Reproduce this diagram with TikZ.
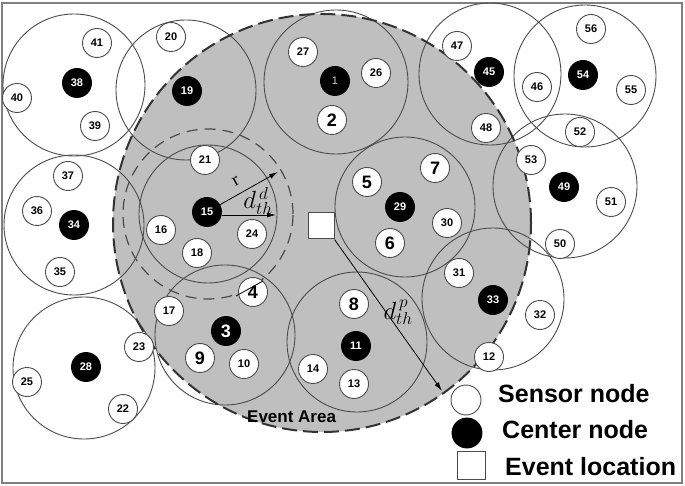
\documentclass[tikz,border=0pt]{standalone}
\usepackage{fontspec}
\setmainfont{Liberation Sans}
\newfontfamily\labelserif{Liberation Serif}
\usetikzlibrary{arrows.meta,positioning}
\definecolor{areagray}{RGB}{191,191,191}
\definecolor{ringgray}{RGB}{75,75,75}

\begin{document}
\begin{tikzpicture}[
    x=1pt, y=-1pt,
    sensor/.style={circle, draw=ringgray, fill=white, line width=0.9pt, minimum size=29pt, inner sep=0pt, font=\fontsize{11}{11}\selectfont\bfseries},
    bigsensor/.style={sensor, font=\fontsize{18}{18}\selectfont\bfseries},
    headnode/.style={sensor, draw=black, fill=black, text=white},
    bighead/.style={headnode, font=\fontsize{18}{18}\selectfont\bfseries},
    clusterring/.style={draw=ringgray, line width=0.9pt},
    evsquare/.style={rectangle, draw=ringgray, fill=white, line width=1pt, minimum size=26pt, inner sep=0pt},
    line/.style={-{Latex[length=9pt,width=5pt]}, line width=0.8pt},
    mathlabel/.style={font=\fontsize{23}{23}\selectfont, inner sep=0pt},
    legend/.style={font=\fontsize{25}{25}\selectfont\bfseries, inner sep=0pt, anchor=base west}
]
\useasboundingbox (0,0) rectangle (685,486);
\draw[gray, line width=1.5pt] (2,3) rectangle (682,483);

% event area
\fill[areagray] (322,223) circle[radius=209pt];

% cluster ranges
\draw[clusterring] (74,85) circle[radius=71pt];
\draw[clusterring] (186,90) circle[radius=70pt];
\draw[clusterring] (336,82) circle[radius=72pt];
\draw[clusterring] (490,74) circle[radius=71pt];
\draw[clusterring] (585,76) circle[radius=71pt];
\draw[clusterring] (74,225) circle[radius=70pt];
\draw[clusterring] (208,214) circle[radius=69pt];
\draw[clusterring] (405,207) circle[radius=70pt];
\draw[clusterring] (565,186) circle[radius=72pt];
\draw[clusterring] (225,335) circle[radius=70pt];
\draw[clusterring] (357,342) circle[radius=70pt];
\draw[clusterring] (493,299) circle[radius=71pt];
\draw[clusterring] (84,368) circle[radius=71pt];
\draw[ringgray, line width=1.2pt, dash pattern=on 11pt off 7pt] (208,214) circle[radius=85pt];
\draw[black!80, line width=2pt, dash pattern=on 15pt off 6pt] (322,223) circle[radius=209pt];

% center nodes
\node[headnode] (s38) at (77,83) {38};
\node[headnode] (s19) at (187,91) {19};
\node[headnode, font=\fontsize{11}{11}\selectfont, text=white!80!black] (s1) at (335,81) {1};
\node[headnode] (s45) at (489,72) {45};
\node[headnode] (s54) at (583,75) {54};
\node[headnode] (s34) at (74,225) {34};
\node[headnode] (s15) at (207,212) {15};
\node[headnode] (s29) at (400,207) {29};
\node[headnode] (s49) at (564,187) {49};
\node[bighead] (s3) at (226,331) {3};
\node[headnode] (s11) at (356,346) {11};
\node[headnode] (s33) at (493,300) {33};
\node[headnode] (s28) at (86,367) {28};

% sensor nodes
\node[sensor] (s41) at (97,43) {41};
\node[sensor] (s40) at (17,98) {40};
\node[sensor] (s39) at (95,126) {39};
\node[sensor] (s20) at (171,37) {20};
\node[sensor] (s27) at (303,52) {27};
\node[sensor] (s26) at (376,73) {26};
\node[bigsensor] (s2) at (332,120) {2};
\node[sensor] (s47) at (457,46) {47};
\node[sensor] (s48) at (486,128) {48};
\node[sensor] (s56) at (591,29) {56};
\node[sensor] (s55) at (631,90) {55};
\node[sensor] (s46) at (537,87) {46};
\node[sensor] (s52) at (580,132) {52};
\node[sensor] (s37) at (68,176) {37};
\node[sensor] (s36) at (37,211) {36};
\node[sensor] (s35) at (60,272) {35};
\node[sensor] (s21) at (205,160) {21};
\node[sensor] (s16) at (161,230) {16};
\node[sensor] (s18) at (197,253) {18};
\node[sensor] (s24) at (252,234) {24};
\node[bigsensor] (s5) at (367,182) {5};
\node[bigsensor] (s7) at (435,168) {7};
\node[sensor] (s30) at (447,223) {30};
\node[bigsensor] (s6) at (390,243) {6};
\node[sensor] (s53) at (531,160) {53};
\node[sensor] (s51) at (611,202) {51};
\node[sensor] (s50) at (560,244) {50};
\node[sensor] (s17) at (169,311) {17};
\node[bigsensor] (s9) at (200,358) {9};
\node[sensor] (s10) at (244,364) {10};
\node[bigsensor] (s4) at (253,292) {4};
\node[bigsensor] (s8) at (354,304) {8};
\node[sensor] (s14) at (313,369) {14};
\node[sensor] (s13) at (354,384) {13};
\node[sensor] (s31) at (459,273) {31};
\node[sensor] (s32) at (540,315) {32};
\node[sensor] (s12) at (489,357) {12};
\node[sensor] (s23) at (139,347) {23};
\node[sensor] (s25) at (27,382) {25};
\node[sensor] (s22) at (123,409) {22};

% thresholds
\coordinate (rtip) at (278,172);
\coordinate (dtip) at (276,215);
\draw[line] (s15) -- (rtip);
\draw[line] ([yshift=-3pt]s15.east) -- (dtip);
\node[font=\fontsize{18}{18}\selectfont\labelserif, rotate=29, inner sep=0pt] (rlabel) at (236,181) {r};
\node[mathlabel] (ddlabel) at (258,201) {$d^{\,d}_{th}$};
\coordinate (m1) at (236,296);
\coordinate (m2) at (263,281);
\draw[line width=0.8pt] (m1) -- (m2);

% event location
\node[evsquare] (ev) at (321,226) {};
\coordinate (ptip) at (442,391);
\draw[line] (ev.south east) -- (ptip);
\node[mathlabel] (dplabel) at (398,312) {$d^{\,p}_{th}$};
\node[font=\fontsize{17}{17}\selectfont\bfseries, inner sep=0pt, anchor=base west] (area) at (247,422) {Event Area};

% legend
\node[sensor, minimum size=30pt] (legsensor) at (466,400) {};
\node[headnode, minimum size=30pt] (leghead) at (467,433) {};
\node[evsquare, minimum size=28pt] (legev) at (471,465) {};
\node[legend] (legsensortext) at (498,402) {Sensor node};
\node[legend] (legheadtext) at (502,438) {Center node};
\node[legend] (legevtext) at (505,475) {Event location};
\end{tikzpicture}
\end{document}
